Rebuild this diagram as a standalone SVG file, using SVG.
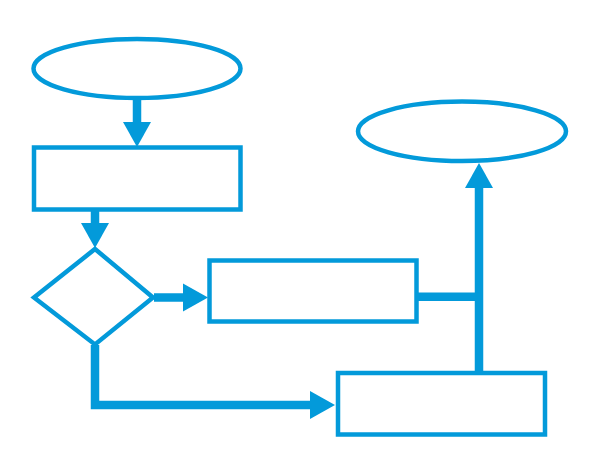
<svg xmlns="http://www.w3.org/2000/svg" width="599" height="476" viewBox="0 0 599 476">
<style>
.n{fill:#fff;stroke:#039ADA;stroke-width:4.5}
.c{fill:none;stroke:#039ADA;stroke-width:8.5}
</style>
<defs>
<marker id="ah" markerUnits="userSpaceOnUse" markerWidth="25" markerHeight="29" refX="0" refY="14" orient="auto" viewBox="0 0 25 28" overflow="visible">
<path d="M0,0 L25,14 L0,28 Z" fill="#039ADA"/>
</marker>
</defs>
<rect width="599" height="476" fill="#fff"/>
<g id="start"><ellipse class="n" cx="137" cy="68.5" rx="103.5" ry="29.5"/></g>
<g id="process1"><rect class="n" x="34" y="147.5" width="206.5" height="62"/></g>
<g id="decision"><polygon class="n" points="95,249 153,297.5 95,344.5 34,297.5"/></g>
<g id="process2"><rect class="n" x="209.5" y="260.5" width="207" height="61"/></g>
<g id="process3"><rect class="n" x="338" y="373" width="207" height="61.5"/></g>
<g id="end"><ellipse class="n" cx="462" cy="131.3" rx="104" ry="29.7"/></g>
<g id="connectors">
<path class="c" d="M137,100 V122" marker-end="url(#ah)"/>
<path class="c" d="M95,211 V223" marker-end="url(#ah)"/>
<path class="c" d="M154,297.5 H183" marker-end="url(#ah)"/>
<path class="c" d="M95,345 V405 H310" marker-end="url(#ah)"/>
<path class="c" d="M479,372 V188" marker-end="url(#ah)"/>
<path class="c" d="M417,296.7 H479"/>
</g>
</svg>
